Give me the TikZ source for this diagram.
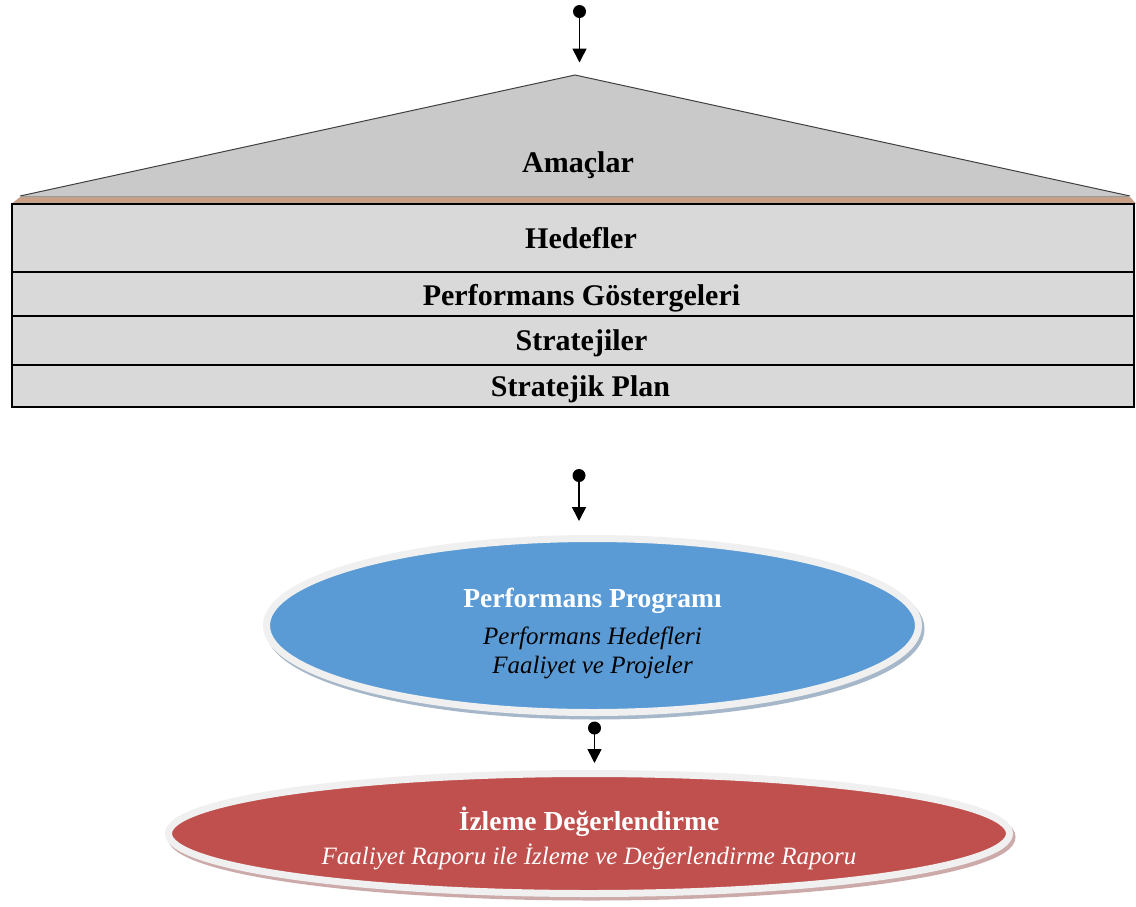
\documentclass[tikz,border=0pt]{standalone}
\usepackage{fontspec}
\setmainfont{Liberation Serif}
\usetikzlibrary{arrows.meta,shapes.geometric,shadows}
\definecolor{roofgray}{HTML}{C9C9C9}
\definecolor{rowgray}{HTML}{D9D9D9}
\definecolor{bandbrown}{HTML}{C8A08A}
\definecolor{progblue}{HTML}{5B9BD5}
\definecolor{evalred}{HTML}{C0504D}
\definecolor{rimgray}{HTML}{F0F0F0}
\definecolor{blueshadow}{HTML}{A5B7C9}
\definecolor{redshadow}{HTML}{CDAAAA}
\tikzset{
  rowbox/.style={draw=black, line width=2pt, fill=rowgray, minimum width=1122pt, inner sep=0pt},
  rowtext/.style={inner sep=0pt, text height=20pt, text depth=0pt,
    font=\fontsize{30}{34}\selectfont\bfseries},
  dotnode/.style={circle, fill=black, minimum size=13pt, inner sep=0pt},
  flowarrow/.style={line width=1.6pt, -{Triangle[length=14pt,width=14pt]}},
  ovalbox/.style={ellipse, draw=rimgray, line width=7pt, inner sep=0pt, align=center,
    font=\fontsize{25}{29}\selectfont},
}
\begin{document}
\begin{tikzpicture}[x=1pt,y=-1pt]
\useasboundingbox (0,0) rectangle (1136,906);
% roof
\fill[bandbrown] (20,197) -- (1130,197) -- (1136,203.5) -- (12,203.5) -- cycle;
\fill[roofgray] (20,196) -- (575,75) -- (1130,196) -- cycle;
\draw[black!75, line width=1pt] (20,196) -- (575,75) -- (1130,196);
\draw[gray!80, line width=1.8pt] (21,196.5) -- (1129,196.5);
\node[rowtext] (amaclar) at (578,162) {Amaçlar};
% rows
\node[rowbox, minimum height=68pt] (hedef) at (573,238) {};
\node[rowbox, minimum height=44pt] (perfg) at (573,294) {};
\node[rowbox, minimum height=49pt] (strat) at (573,340.5) {};
\node[rowbox, minimum height=42pt] (splan) at (573,386) {};
\node[rowtext] (hedeft) at (581,238) {Hedefler};
\node[rowtext] (perfgt) at (581.5,295) {Performans Göstergeleri};
\node[rowtext] (stratt) at (581.5,340.5) {Stratejiler};
\node[rowtext] (splant) at (580.5,386) {Stratejik Plan};
% arrows
\node[dotnode] (d1) at (579.5,11.5) {};
\coordinate (e1) at (579.5,62.5);
\draw[flowarrow] (d1.center) -- (e1);
\node[dotnode] (d2) at (579,475.5) {};
\coordinate (e2) at (579,521);
\draw[flowarrow] (d2.center) -- (e2);
\node[dotnode] (d3) at (594.5,728) {};
\coordinate (e3) at (594.5,763);
\draw[flowarrow] (d3.center) -- (e3);
% blue ellipse
\node[ovalbox, fill=progblue, minimum width=652pt, minimum height=174pt,
  drop shadow={shadow xshift=2.5pt, shadow yshift=-3.5pt, draw=blueshadow, line width=7pt, fill=blueshadow, opacity=1}]
  (prog) at (592.5,625.5)
  {\rule{0pt}{35pt}{\color{white}\fontsize{27.5}{30}\selectfont\bfseries Performans Programı}\\[8pt]
   \itshape Performans Hedefleri\\
   \itshape Faaliyet ve Projeler};
% red ellipse
\node[ovalbox, fill=evalred, text=white, minimum width=841pt, minimum height=120pt,
  drop shadow={shadow xshift=2.5pt, shadow yshift=-3.5pt, draw=redshadow, line width=7pt, fill=redshadow, opacity=1}]
  (izle) at (589,833.5)
  {\rule{0pt}{33pt}{\fontsize{27.5}{30}\selectfont\bfseries İzleme Değerlendirme}\\[5pt]
   \itshape Faaliyet Raporu ile İzleme ve Değerlendirme Raporu};
\end{tikzpicture}
\end{document}
